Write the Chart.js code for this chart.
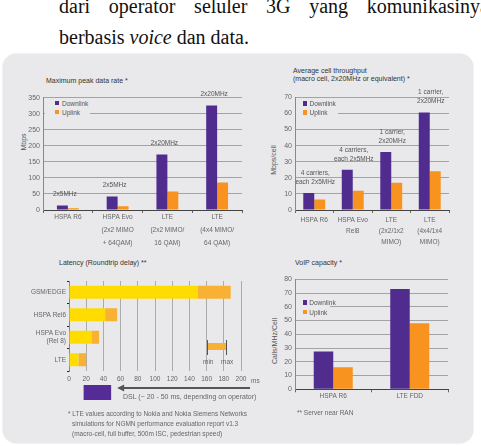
<!DOCTYPE html>
<html>
<head>
<meta charset="utf-8">
<script src="https://cdn.jsdelivr.net/npm/chart.js@4.4.0/dist/chart.umd.min.js"></script>
<style>
html, body { margin: 0; padding: 0; background: #fff; width: 481px; height: 446px; overflow: hidden; }
#page { position: relative; width: 481px; height: 446px; overflow: hidden; font-family: "Liberation Sans", Arial, sans-serif; }
.serif { position: absolute; font-family: "Liberation Serif", "Times New Roman", serif; font-size: 20px; line-height: 20px; color: #111; white-space: nowrap; }
#line1 { left: 59px; top: -4px; width: 430px; text-align: justify; text-align-last: justify; white-space: normal; }
#line2 { left: 59px; top: 27px; }
#panel { position: absolute; left: 3px; top: 54px; width: 470px; height: 389px; border-radius: 14px; background: #e9e9eb; box-shadow: 0 0 2px rgba(0,0,0,0.2); }
canvas { position: absolute; }
.t { position: absolute; font-size: 7px; line-height: 9px; color: #333; white-space: nowrap; }
.note { color: #666; font-size: 6.5px; }
.ytitle { position: absolute; font-size: 7px; line-height: 9px; color: #555; white-space: nowrap; transform: translate(-50%, -50%) rotate(-90deg); }
.legend { position: absolute; background: #e9e9eb; }
.legend i { position: absolute; width: 4.5px; height: 4.5px; }
.legend b { position: absolute; font-weight: normal; font-size: 6.5px; line-height: 9px; color: #555; white-space: nowrap; }
</style>
</head>
<body>
<div id="page">
  <div class="serif" id="line1">dari operator seluler 3G yang komunikasinya</div>
  <div class="serif" id="line2">berbasis <i>voice</i> dan data.</div>
  <div id="panel"></div>

  <div class="t" style="left:46px;top:76px">Maximum peak data rate *</div>
  <div class="t" style="left:293px;top:66px">Average cell throughput</div>
  <div class="t" style="left:293px;top:74px">(macro cell, 2x20MHz or equivalent) *</div>
  <div class="t" style="left:59px;top:258px">Latency (Roundtrip delay) **</div>
  <div class="t" style="left:295px;top:258px">VoIP capacity *</div>

  <div class="ytitle" style="left:23px;top:142px">Mbps</div>
  <div class="ytitle" style="left:273px;top:160px">Mbps/cell</div>
  <div class="ytitle" style="left:274px;top:341px">Calls/MHz/Cell</div>

  <canvas id="peakChart" width="244" height="170" style="left:8px;top:80px"></canvas>
  <canvas id="cellChart" width="210" height="170" style="left:252px;top:80px"></canvas>
  <canvas id="latencyChart" width="250" height="132" style="left:8px;top:272px"></canvas>
  <canvas id="voipChart" width="210" height="140" style="left:252px;top:268px"></canvas>

  <div class="t" style="left:251px;top:375.5px;color:#666;font-size:6.5px">ms</div>
  <div style="position:absolute;left:208px;top:343px;width:18px;height:7px;background:#f8b133"></div>
  <div style="position:absolute;left:206.5px;top:340px;width:1.3px;height:15px;background:#555"></div>
  <div style="position:absolute;left:225.5px;top:340px;width:1.3px;height:15px;background:#555"></div>
  <div class="t note" style="left:203px;top:357px">min</div>
  <div class="t note" style="left:221px;top:357px">max</div>
  <div class="t note" style="left:123px;top:392px;font-size:7px">DSL (~ 20 - 50 ms, depending on operator)</div>

  <div class="t note" style="left:68px;top:409px">* LTE values according to Nokia and Nokia Siemens Networks</div>
  <div class="t note" style="left:72px;top:419px">simulations for NGMN performance evaluation report v1.3</div>
  <div class="t note" style="left:72px;top:429px">(macro-cell, full buffer, 500m ISC, pedestrian speed)</div>
  <div class="t note" style="left:297px;top:408px">** Server near RAN</div>
</div>

<script>
const purple = "#4f2c8e"
const orange = "#f7931e"
const yellow = "#ffdc00"
const lightOrange = "#f8b133"
const dslPurple = "#552b98"

// maximum peak data rate
const peakCategories = ["HSPA R6", ["HSPA Evo", "(2x2 MIMO", "+ 64QAM)"], ["LTE", "(2x2 MIMO/", "16 QAM)"], ["LTE", "(4x4 MIMO/", "64 QAM)"]]
const peakDownlink = [14.4, 42, 173, 326]
const peakUplink = [5.7, 11.5, 58, 86]
const peakNotes = ["2x5MHz", "2x5MHz", "2x20MHz", "2x20MHz"]
const peakMax = 350
const peakStep = 50

// average cell throughput
const cellCategories = ["HSPA R6", ["HSPA Evo", "Rel8"], ["LTE", "(2x2/1x2", "MIMO)"], ["LTE", "(4x4/1x4", "MIMO)"]]
const cellDownlink = [10.5, 25, 36, 60.5]
const cellUplink = [6.5, 12, 17, 24]
const cellNotes = [["4 carriers,", "each 2x5MHz"], ["4 carriers,", "each 2x5MHz"], ["1 carrier,", "2x20MHz"], ["1 carrier,", "2x20MHz"]]
const cellMax = 70
const cellStep = 10

// latency (roundtrip delay), ms
const latencyCategories = ["GSM/EDGE", "HSPA Rel6", ["HSPA Evo", "(Rel 8)"], "LTE"]
const latencyMin = [150, 42, 26, 11]
const latencyMax = [188, 56, 35, 20]
const dslRange = [17, 49]
const latencyTicks = [0, 20, 40, 60, 80, 100, 120, 140, 160, 180, 200]

// VoIP capacity
const voipCategories = ["HSPA R6", "LTE FDD"]
const voipDownlink = [27.5, 73]
const voipUplink = [16, 48]
const voipMax = 80
const voipStep = 10

Chart.defaults.font.family = '"Liberation Sans", Arial, sans-serif'
Chart.defaults.font.size = 7
Chart.defaults.color = "#666"
Chart.defaults.animation = false

const barNotes = {
    id: "barNotes",
    afterDatasetsDraw(chart, args, opts) {
        if (!opts.notes) return
        const ctx = chart.ctx
        const down = chart.getDatasetMeta(0).data
        const up = chart.getDatasetMeta(1).data
        ctx.save()
        ctx.font = '6.5px "Liberation Sans", Arial, sans-serif'
        ctx.fillStyle = "#555"
        ctx.textAlign = "center"
        ctx.textBaseline = "middle"
        opts.notes.forEach((note, i) => {
            const lines = [].concat(note)
            const x = (down[i].x + up[i].x) / 2 + opts.dx
            lines.forEach((line, j) => {
                ctx.fillText(line, x, down[i].y - opts.gap - (lines.length - 1 - j) * 9)
            })
        })
        ctx.restore()
    }
}

const dslMarker = {
    id: "dslMarker",
    afterDraw(chart) {
        const {ctx, chartArea, scales} = chart
        const x0 = scales.x.getPixelForValue(dslRange[0])
        const x1 = scales.x.getPixelForValue(dslRange[1])
        const top = chartArea.bottom + 14
        ctx.save()
        ctx.fillStyle = dslPurple
        ctx.fillRect(x0, top, x1 - x0, 15)
        const ay = top + 3
        const ax = x1 + 6
        ctx.strokeStyle = "#555"
        ctx.lineWidth = 2
        ctx.beginPath()
        ctx.moveTo(ax + 4, ay)
        ctx.lineTo(chart.width - 8, ay)
        ctx.stroke()
        ctx.fillStyle = "#555"
        ctx.beginPath()
        ctx.moveTo(ax, ay)
        ctx.lineTo(ax + 7, ay - 3.5)
        ctx.lineTo(ax + 7, ay + 3.5)
        ctx.closePath()
        ctx.fill()
        ctx.restore()
    }
}

function makeBarChart(id, cfg) {
    return new Chart(id, {
        type: "bar",
        data: {
            labels: cfg.labels,
            datasets: [
                {label: "Downlink", data: cfg.down, backgroundColor: purple, categoryPercentage: cfg.cp, barPercentage: 1},
                {label: "Uplink", data: cfg.up, backgroundColor: orange, categoryPercentage: cfg.cp, barPercentage: 1},
            ]
        },
        options: {
            responsive: false,
            layout: {padding: cfg.padding},
            plugins: {
                legend: {display: false},
                tooltip: {enabled: false},
                barNotes: {notes: cfg.notes, dx: cfg.dx || 0, gap: cfg.gap || 11},
            },
            scales: {
                x: {
                    grid: {drawOnChartArea: false, color: "#666", tickLength: 3},
                    border: {color: "#444"},
                    ticks: {padding: cfg.xPad, font: {size: 6.5, lineHeight: cfg.xLine}, color: "#666", maxRotation: 0, autoSkip: false},
                    afterFit: s => { s.height = cfg.xHeight },
                },
                y: {
                    min: 0,
                    max: cfg.max,
                    ticks: {stepSize: cfg.step, padding: 3, font: {size: 7}, color: "#666"},
                    grid: {color: "#a3a3a3", drawTicks: false},
                    border: {color: "#888"},
                    afterFit: s => { s.width = cfg.yWidth },
                },
            },
        },
        plugins: [barNotes],
    })
}

function addLegend(chart, box, sx, rows, tx) {
    const page = document.getElementById("page")
    const el = document.createElement("div")
    el.className = "legend"
    el.style.left = box[0] + "px"
    el.style.top = box[1] + "px"
    el.style.width = box[2] + "px"
    el.style.height = box[3] + "px"
    chart.data.datasets.forEach((ds, i) => {
        const sq = document.createElement("i")
        sq.style.background = ds.backgroundColor
        sq.style.left = (sx - 2.25 - box[0]) + "px"
        sq.style.top = (rows[i] - 2.25 - box[1]) + "px"
        const label = document.createElement("b")
        label.textContent = ds.label
        label.style.left = (tx - box[0]) + "px"
        label.style.top = (rows[i] - 4.5 - box[1]) + "px"
        el.appendChild(sq)
        el.appendChild(label)
    })
    page.appendChild(el)
}

const peakChart = makeBarChart("peakChart", {
    labels: peakCategories, down: peakDownlink, up: peakUplink, notes: peakNotes,
    max: peakMax, step: peakStep, cp: 0.44, dx: -3, gap: 11,
    padding: {top: 17.7, right: 10, left: 0, bottom: 0},
    yWidth: 35, xHeight: 40, xPad: -2, xLine: 2,
})
addLegend(peakChart, [45, 98, 45, 20], 57, [103, 112], 62)

const cellChart = makeBarChart("cellChart", {
    labels: cellCategories, down: cellDownlink, up: cellUplink, notes: cellNotes,
    max: cellMax, step: cellStep, cp: 0.57, dx: 1, gap: 11,
    padding: {top: 17.3, right: 13, left: 0, bottom: 0},
    yWidth: 43, xHeight: 40, xPad: 2, xLine: 1.7,
})
addLegend(cellChart, [296, 98, 42, 20], 305, [103.3, 112.3], 309.5)

const voipChart = makeBarChart("voipChart", {
    labels: voipCategories, down: voipDownlink, up: voipUplink,
    max: voipMax, step: voipStep, cp: 0.51,
    padding: {top: 11.3, right: 14, left: 0, bottom: 0},
    yWidth: 43, xHeight: 18.7, xPad: 0, xLine: 1.2,
})
addLegend(voipChart, [296, 297, 34, 20], 305, [302.7, 312], 309.3)

new Chart("latencyChart", {
    type: "bar",
    data: {
        labels: latencyCategories,
        datasets: [
            {label: "min", data: latencyMin.map(v => [0, v]), backgroundColor: yellow, barPercentage: 0.58, categoryPercentage: 1},
            {label: "max", data: latencyMin.map((v, i) => [v, latencyMax[i]]), backgroundColor: lightOrange, barPercentage: 0.58, categoryPercentage: 1},
        ]
    },
    options: {
        responsive: false,
        indexAxis: "y",
        layout: {padding: {top: 9, right: 17, bottom: 12, left: 0}},
        datasets: {bar: {grouped: false}},
        plugins: {legend: {display: false}, tooltip: {enabled: false}},
        scales: {
            x: {
                min: latencyTicks[0],
                max: latencyTicks[latencyTicks.length - 1],
                afterBuildTicks: s => { s.ticks = latencyTicks.map(v => ({value: v})) },
                ticks: {padding: 4.8, font: {size: 6.5}, color: "#666", maxRotation: 0, minRotation: 0, autoSkip: false},
                grid: {color: "#ababab", drawTicks: false},
                border: {display: false},
                afterFit: s => { s.height = 21 },
            },
            y: {
                grid: {drawOnChartArea: false, color: "#222", tickLength: 2},
                border: {color: "#888"},
                ticks: {padding: 1, font: {size: 6.5, lineHeight: 1.15}, color: "#666", autoSkip: false},
                afterFit: s => { s.width = 61 },
            },
        },
    },
    plugins: [dslMarker],
})
</script>
</body>
</html>
